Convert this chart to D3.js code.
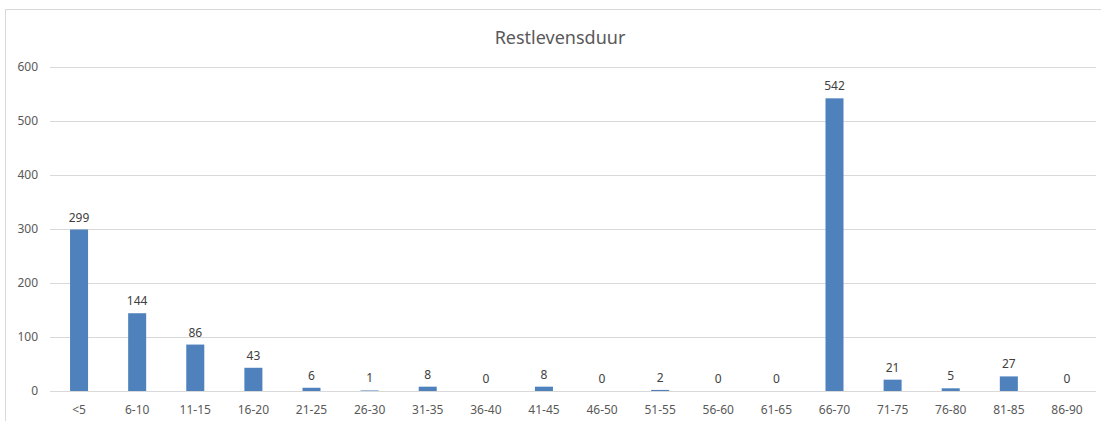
<!DOCTYPE html>
<html>
<head>
<meta charset="utf-8">
<script src="https://cdn.jsdelivr.net/npm/d3@7"></script>
<style>
  body { margin: 0; background: #fff; }
  text { font-family: "Noto Sans", "Open Sans", sans-serif; }
</style>
</head>
<body>
<div id="chart"></div>
<script>
// data
const categories = ['<5','6-10','11-15','16-20','21-25','26-30','31-35','36-40','41-45','46-50','51-55','56-60','61-65','66-70','71-75','76-80','81-85','86-90'];
const counts = [299,144,86,43,6,1,8,0,8,0,2,0,0,542,21,5,27,0];
const yTicks = [0,100,200,300,400,500,600];
const title = 'Restlevensduur';

const W = 1101, H = 421;
const margin = {top: 67, right: 5, bottom: 30, left: 50};
const width = W - margin.left - margin.right;
const height = H - margin.top - margin.bottom;

const svg = d3.select('#chart').append('svg').attr('width', W).attr('height', H);

// chart frame
svg.append('rect').attr('x', 5.5).attr('y', 9.5).attr('width', W).attr('height', H)
  .attr('fill', 'none').attr('stroke', '#d9d9d9');

svg.append('text').attr('x', 560).attr('y', 44).attr('text-anchor', 'middle')
  .attr('font-size', '18px').attr('fill', '#595959').text(title);

const g = svg.append('g').attr('transform', `translate(${margin.left},${margin.top})`);

const x = d3.scaleBand().domain(categories).range([0, width]).paddingInner(0.69).paddingOuter(0.345);
const y = d3.scaleLinear().domain([0, 600]).range([height, 0]);

// gridlines
g.selectAll('.grid').data(yTicks).enter().append('line')
  .attr('x1', 0).attr('x2', width)
  .attr('y1', d => Math.round(y(d)) + 0.5).attr('y2', d => Math.round(y(d)) + 0.5)
  .attr('stroke', '#d9d9d9').attr('stroke-width', 1);

const yAxis = g.append('g').call(d3.axisLeft(y).tickValues(yTicks).tickSize(0).tickPadding(12));
yAxis.select('.domain').remove();
yAxis.selectAll('text').attr('font-size', '12px').attr('fill', '#595959').style('font-family', '"Noto Sans", sans-serif');

const xAxis = g.append('g').attr('transform', `translate(0,${height})`)
  .call(d3.axisBottom(x).tickSize(0).tickPadding(14));
xAxis.select('.domain').remove();
xAxis.selectAll('text').attr('font-size', '12px').attr('fill', '#595959').style('font-family', '"Noto Sans", sans-serif');

const data = categories.map((c, i) => ({cat: c, v: counts[i]}));

g.selectAll('.bar').data(data).enter().append('rect')
  .attr('class', 'bar')
  .attr('x', d => x(d.cat)).attr('y', d => y(d.v))
  .attr('width', x.bandwidth()).attr('height', d => height - y(d.v))
  .attr('fill', '#4f81bd');

g.selectAll('.lbl').data(data).enter().append('text')
  .attr('x', d => x(d.cat) + x.bandwidth() / 2).attr('y', d => y(d.v) - 8)
  .attr('text-anchor', 'middle').attr('font-size', '12px').attr('fill', '#404040')
  .text(d => d.v);
</script>
</body>
</html>
